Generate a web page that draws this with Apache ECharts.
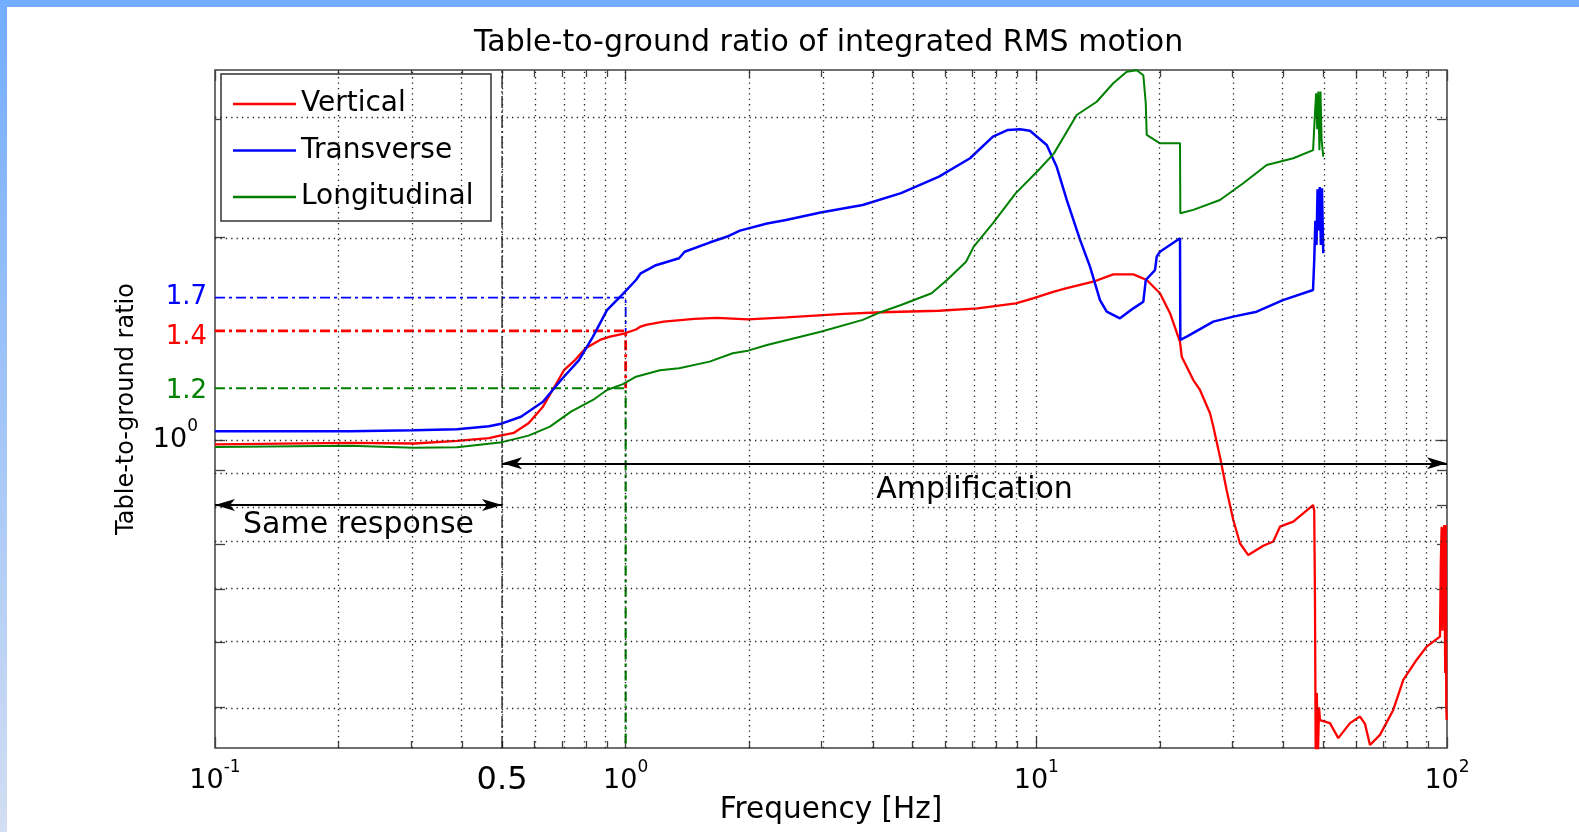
<!DOCTYPE html>
<html><head><meta charset="utf-8">
<script src="https://cdn.jsdelivr.net/npm/echarts@6/dist/echarts.min.js"></script>
<style>
html,body{margin:0;padding:0;background:#fff;width:1579px;height:832px;overflow:hidden}
#chart{position:absolute;left:0;top:0;width:1579px;height:832px}
#topband{position:absolute;left:0;top:0;width:1579px;height:7px;background:#73adff;z-index:2}
#leftband{position:absolute;left:0;top:0;width:7px;height:832px;background:linear-gradient(#73adff,#d2def2);z-index:2}
</style></head><body>
<div id="chart"></div><div id="topband"></div><div id="leftband"></div>
<script>
// ---------------- data ----------------
const titleText = 'Table-to-ground ratio of integrated RMS motion';
const xName = 'Frequency [Hz]';
const yName = 'Table-to-ground ratio';
const seriesNames = ['Vertical', 'Transverse', 'Longitudinal'];

const FREQ_MIN = 0.1, FREQ_MAX = 100;
const RATIO_MIN = 0.348, RATIO_MAX = 3.553;

const xTickLabels = [0.1, 0.5, 1, 10, 100];
const xMajorTicks = [0.1, 1, 10, 100];
const xMinorTicks = [0.2,0.3,0.4,0.5,0.6,0.7,0.8,0.9,2,3,4,5,6,7,8,9,20,30,40,50,60,70,80,90];
const xGridLines = [0.2,0.3,0.4,0.5,0.6,0.7,0.8,0.9,1,2,3,4,5,6,7,8,9,10,20,30,40,50,60,70,80,90];
const yGridLines = [0.4,0.5,0.6,0.7,0.8,0.9,1,2,3];

const vertFreq = [0.1,0.2132,0.3052,0.3885,0.4648,0.4943,0.5346,0.58,0.629,0.6675,0.7076,0.7527,0.799,0.866,0.9158,0.985,1.0596,1.088,1.1207,1.238,1.469,1.669,1.986,2.458,3.395,4.205,5.794,7.19,8.913,9.815,11.04,11.86,13.76,15.39,17.23,18.57,20.0,21.16,22.38,22.6,24.11,25.03,26.48,26.97,28.0,29.07,30.17,31.32,32.81,35.7,37.76,39.2,42.24,47.2,47.5,47.7,47.9,48.2,48.5,48.8,49.06,51.88,54.36,58.05,61.4,63.14,64.93,68.68,73.98,78.26,84.38,89.23,96.14,96.6,97.05,97.5,98.0,98.5,99.0,99.3,99.6,99.8];
const vertRatio = [0.985,0.990,0.988,0.997,1.006,1.015,1.025,1.059,1.121,1.194,1.27,1.315,1.369,1.409,1.425,1.438,1.46,1.475,1.483,1.50,1.514,1.520,1.512,1.522,1.54,1.549,1.557,1.570,1.597,1.625,1.663,1.682,1.72,1.764,1.764,1.73,1.653,1.544,1.40,1.33,1.228,1.187,1.096,1.047,0.944,0.842,0.760,0.702,0.674,0.696,0.706,0.743,0.756,0.800,0.785,0.578,0.33,0.42,0.34,0.40,0.383,0.379,0.360,0.379,0.3876,0.378,0.3516,0.364,0.3965,0.4395,0.471,0.4925,0.5097,0.66,0.743,0.52,0.72,0.747,0.45,0.747,0.40,0.383];

const transFreq = [0.1,0.2132,0.3052,0.3885,0.4648,0.4943,0.5559,0.629,0.696,0.7697,0.8326,0.9006,0.985,1.0596,1.088,1.146,1.185,1.349,1.392,1.601,1.783,1.898,2.209,2.458,2.984,3.778,4.683,5.794,6.896,7.84,8.53,9.125,9.65,10.6,11.21,11.86,12.78,13.51,14.29,14.84,15.98,17.23,18.22,18.47,19.45,19.64,20.0,22.38,22.42,23.24,26.97,30.17,34.4,39.86,47.18,47.5,47.8,48.1,48.4,48.7,49.0,49.3,49.6,49.97];
const transRatio = [1.030,1.030,1.034,1.037,1.048,1.056,1.083,1.14,1.228,1.315,1.425,1.56,1.65,1.73,1.77,1.80,1.82,1.864,1.906,1.967,2.012,2.049,2.10,2.125,2.18,2.237,2.33,2.466,2.626,2.827,2.893,2.90,2.886,2.748,2.55,2.276,1.985,1.811,1.615,1.552,1.517,1.570,1.606,1.73,1.79,1.874,1.906,1.996,1.409,1.425,1.50,1.526,1.552,1.615,1.672,1.85,2.12,1.95,2.36,2.05,2.38,1.95,2.37,1.896];

const longFreq = [0.1,0.2132,0.3052,0.3885,0.4943,0.58,0.654,0.736,0.8326,0.9006,0.985,1.0596,1.212,1.349,1.601,1.822,1.986,2.209,2.984,3.778,4.205,4.683,5.559,6.06,6.742,7.04,7.834,8.913,10.13,11.04,12.54,14.03,15.39,16.6,17.56,18.22,18.47,18.57,20.0,22.38,22.42,24.11,28.0,31.9,36.39,42.24,47.2,47.6,48.0,48.3,48.6,48.9,49.2,49.5,49.97];
const longRatio = [0.976,0.980,0.974,0.975,0.991,1.015,1.047,1.102,1.147,1.187,1.211,1.242,1.27,1.279,1.308,1.346,1.358,1.385,1.449,1.509,1.552,1.588,1.653,1.73,1.842,1.94,2.10,2.33,2.522,2.67,3.045,3.187,3.395,3.532,3.55,3.49,3.17,2.844,2.764,2.764,2.175,2.20,2.276,2.41,2.566,2.626,2.70,2.99,3.28,2.9,3.3,2.7,3.3,2.8,2.64];

// annotation levels read at 1 Hz (label text as printed)
const annoLabels = ['1.7', '1.4', '1.2'];
const annoValues = [1.629, 1.453, 1.194];
const annoFreq = 1;
const splitFreq = 0.5;
const sameResponseRange = [0.1, 0.5];
const sameResponseLevel = 0.8;
const amplificationRange = [0.5, 100];
const amplificationLevel = 0.923;
const regionLabels = ['Same response', 'Amplification'];

// ---------------- styles ----------------
const FONT = 'DejaVu Sans';
const colors = ['#ff0000', '#0000ff', '#008000'];
const lineWidths = [2.3, 2.5, 2];
const annoWidths = [1.8, 2.8, 2.2];
const annoColors = ['#0000ff', '#ff0000', '#008000'];
const axisColor = '#404040';

const lg = Math.log10;
const near = (a, b) => Math.abs(a - b) < 1e-6;
const X0 = lg(FREQ_MIN), X1 = lg(FREQ_MAX), Y0 = lg(RATIO_MIN), Y1 = lg(RATIO_MAX);
const toXY = (fs, rs) => fs.map((f, i) => [lg(f), lg(rs[i])]);

const tickLine = {color: axisColor, width: 1.3};
function xAxisCfg(pos, ticks, len, withLabels) {
  const a = {
    type: 'value', min: X0, max: X1, position: pos,
    axisLine: {show: false, onZero: false}, splitLine: {show: false},
    axisTick: {show: true, inside: true, length: len, customValues: ticks.map(lg), lineStyle: tickLine},
    axisLabel: {show: false}
  };
  if (withLabels) {
    a.axisLabel = {
      show: true, customValues: xTickLabels.map(lg), margin: 11, color: '#000',
      formatter: v => near(v, lg(splitFreq)) ? '{big|0.5}' : '{base|10}{sup|' + Math.round(v) + '}',
      rich: {
        base: {fontSize: 27, fontFamily: FONT, color: '#000'},
        sup: {fontSize: 17, fontFamily: FONT, color: '#000', padding: [0, 0, 26, 0]},
        big: {fontSize: 32, fontFamily: FONT, color: '#000', padding: [6, 0, 0, 0]}
      }
    };
    a.name = xName; a.nameLocation = 'middle'; a.nameGap = 47; a.nameMoveOverlap = false;
    a.nameTextStyle = {fontSize: 29.5, fontFamily: FONT, color: '#000'};
  }
  return a;
}
function yAxisCfg(pos, withLabels) {
  const a = {
    type: 'value', min: Y0, max: Y1, position: pos,
    axisLine: {show: false, onZero: false}, splitLine: {show: false},
    axisTick: {show: true, inside: true, length: 10, customValues: yGridLines.map(lg), lineStyle: tickLine},
    axisLabel: {show: false}
  };
  if (withLabels) {
    a.axisLabel = {
      show: true, customValues: [0].concat(annoValues.map(lg)), margin: 8,
      formatter: v => {
        if (near(v, 0)) return '{base|10}{sup|0}';
        const i = annoValues.findIndex(x => near(lg(x), v));
        return '{c' + i + '|' + annoLabels[i] + '}';
      },
      rich: {
        base: {fontSize: 27, fontFamily: FONT, color: '#000'},
        sup: {fontSize: 17, fontFamily: FONT, color: '#000', padding: [0, 9, 26, 0]},
        c0: {fontSize: 26, fontFamily: FONT, color: annoColors[0]},
        c1: {fontSize: 26, fontFamily: FONT, color: annoColors[1], padding: [12, 0, 0, 0]},
        c2: {fontSize: 26, fontFamily: FONT, color: annoColors[2], padding: [6, 0, 0, 0]}
      }
    };
    a.name = yName; a.nameLocation = 'middle'; a.nameGap = 76; a.nameMoveOverlap = false;
    a.nameTextStyle = {fontSize: 24, fontFamily: FONT, color: '#000'};
  }
  return a;
}

const gridLineData = xGridLines.map(v => ({xAxis: lg(v)})).concat(yGridLines.map(v => ({yAxis: lg(v)})));

const series = [];
series.push({
  name: '_grid', type: 'line', data: [], z: 1, silent: true, symbol: 'none',
  markLine: {silent: true, symbol: 'none', animation: false, label: {show: false},
    lineStyle: {type: [1.3, 4.1], color: '#222', width: 1.3}, emphasis: {disabled: true}, data: gridLineData}
});
// dash-dot annotation lines
const annoEnds = annoValues.slice(1).concat([RATIO_MIN]);
annoValues.forEach((v, i) => {
  series.push({
    name: '_anno' + i, type: 'line', z: 2, symbol: 'none', silent: true,
    lineStyle: {color: annoColors[i], width: annoWidths[i], type: [10, 4, 3, 4]},
    data: [[X0, lg(v)], [lg(annoFreq), lg(v)], [lg(annoFreq), lg(annoEnds[i])]]
  });
});
series.push({
  name: '_split', type: 'line', z: 2, symbol: 'none', silent: true,
  lineStyle: {color: '#000', width: 1.2, type: [12, 3, 2, 3]},
  data: [[lg(splitFreq), Y0], [lg(splitFreq), Y1]]
});
const curves = [[vertFreq, vertRatio], [transFreq, transRatio], [longFreq, longRatio]];
curves.forEach((c, i) => {
  series.push({
    name: seriesNames[i], type: 'line', z: 3, symbol: 'none', showSymbol: false,
    color: colors[i], itemStyle: {color: colors[i]}, lineStyle: {color: colors[i], width: lineWidths[i]},
    data: toXY(c[0], c[1]), clip: true
  });
});
series.push({
  name: '_arrows', type: 'line', data: [], z: 4, silent: true, symbol: 'none',
  markLine: {
    silent: true, animation: false, symbol: ['arrow', 'arrow'], symbolSize: [9, 20],
    lineStyle: {type: 'solid', color: '#000', width: 1.8},
    label: {show: true, position: 'insideMiddleBottom', formatter: p => p.name,
      fontSize: 30, fontFamily: FONT, color: '#000'},
    emphasis: {disabled: true},
    data: [
      [{name: regionLabels[0], coord: [lg(sameResponseRange[0]), lg(sameResponseLevel)], label: {distance: 5}},
       {coord: [lg(sameResponseRange[1]), lg(sameResponseLevel)]}],
      [{name: regionLabels[1], coord: [lg(amplificationRange[0]), lg(amplificationLevel)], label: {distance: 12}},
       {coord: [lg(amplificationRange[1]), lg(amplificationLevel)]}]
    ]
  }
});

const option = {
  animation: false,
  textStyle: {fontFamily: FONT},
  title: {text: titleText, left: 474, top: 26, padding: 0,
    textStyle: {fontSize: 30, fontWeight: 'normal', fontFamily: FONT, color: '#000', lineHeight: 34}},
  grid: {left: 215, right: 132, top: 70, bottom: 84, show: true, borderColor: axisColor, borderWidth: 1.5,
    backgroundColor: 'transparent', containLabel: false, outerBoundsMode: 'none'},
  legend: {
    data: seriesNames, orient: 'vertical', left: 221, top: 74,
    icon: 'rect', itemWidth: 63, itemHeight: 2.5, itemGap: 14.5,
    padding: [14, 13, 8, 12], borderColor: '#333', borderWidth: 1.5, backgroundColor: '#fff',
    textStyle: {fontSize: 28, fontFamily: FONT, color: '#000', lineHeight: 32, width: 177},
    selectedMode: false
  },
  xAxis: [xAxisCfg('bottom', xMajorTicks, 11, true), xAxisCfg('bottom', xMinorTicks, 7, false),
          xAxisCfg('top', xMajorTicks, 11, false), xAxisCfg('top', xMinorTicks, 7, false)],
  yAxis: [yAxisCfg('left', true), yAxisCfg('right', false)],
  series: series
};
const chart = echarts.init(document.getElementById('chart'), null, {renderer: 'canvas'});
chart.setOption(option);
</script></body></html>
